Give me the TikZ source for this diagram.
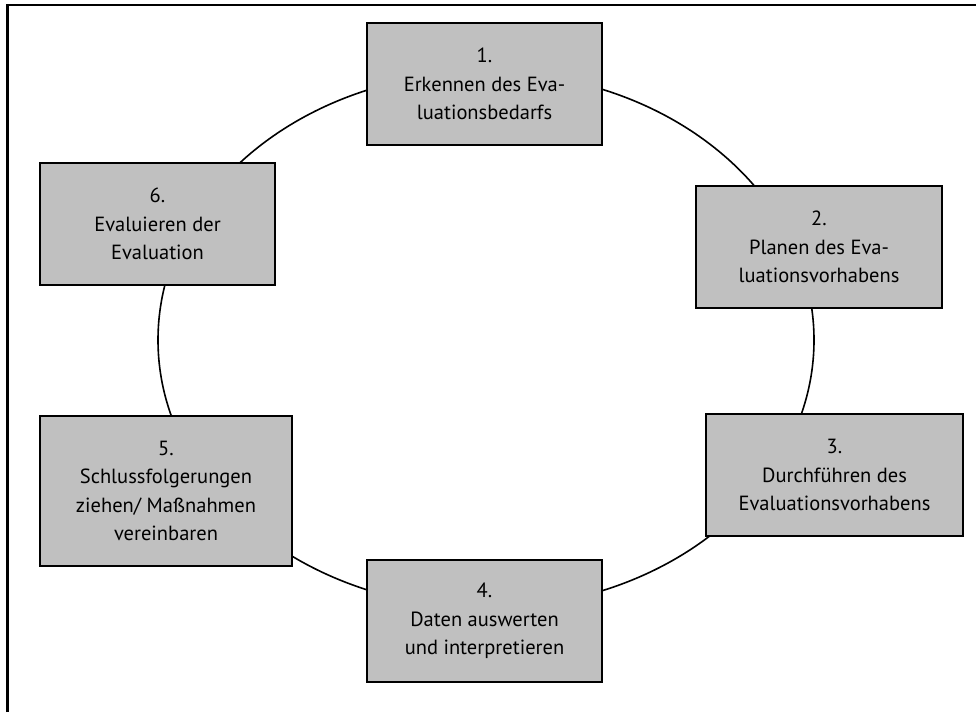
\documentclass[tikz,border=0pt]{standalone}
\usepackage{fontspec}
\setmainfont{PT Sans}
\definecolor{boxgray}{RGB}{192,192,192}

\begin{document}
\begin{tikzpicture}[x=1pt,y=-1pt,
    phase/.style={draw=black,line width=1.5pt,fill=boxgray,align=center,
        inner sep=0pt,minimum height=122pt,font=\fontsize{20.5}{28.5}\selectfont}]
    \useasboundingbox (0,0) rectangle (976,712);
    \draw[line width=2.5pt] (7.5,712)--(7.5,5)--(976,5);
    \coordinate (mid) at (486,340);
    \draw[line width=1.6pt] (mid) ellipse [x radius=328pt, y radius=268pt];
    \node[phase,minimum width=235pt] (p1) at (484.5,84) {1.\\Erkennen des Eva-\\luationsbedarfs};
    \node[phase,minimum width=246pt] (p2) at (819,247) {2.\\Planen des Eva-\\luationsvorhabens};
    \node[phase,minimum width=257pt] (p3) at (834.5,475) {3.\\Durchführen des\\Evaluationsvorhabens};
    \node[phase,minimum width=235pt] (p4) at (484.5,621) {4.\\Daten auswerten\\und interpretieren};
    \node[phase,minimum width=252pt,minimum height=150pt] (p5) at (166,491) {5.\\Schlussfolgerungen\\ziehen/ Maßnahmen\\vereinbaren};
    \node[phase,minimum width=235pt] (p6) at (157.5,224) {6.\\Evaluieren der\\Evaluation};
\end{tikzpicture}
\end{document}
